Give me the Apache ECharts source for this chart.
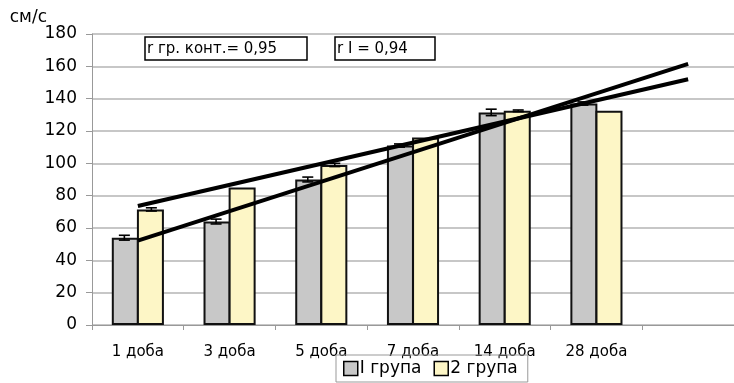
<!DOCTYPE html>
<html><head><meta charset="utf-8">
<script src="https://cdn.jsdelivr.net/npm/echarts@6/dist/echarts.min.js"></script>
<style>html,body{margin:0;padding:0;background:#fff}#c{width:734px;height:383px}</style>
</head><body><div id="c"></div>
<script>
const categories = ['1 доба','3 доба','5 доба','7 доба','14 доба','28 доба',''];
const group1 = [54, 64, 90, 111, 131.5, 137];
const group2 = [71.5, 85, 99, 116, 132.5, 132.5];
const group1Err = [1.5, 1.5, 1.5, 1, 2, 1];
const group2Err = [1, 0, 1, 0, 0.5, 0];
const trendSteep = [52.2, null, null, null, null, null, 161.5];
const trendGentle = [73.6, null, null, null, null, null, 152];
const yTicks = {min: 0, max: 180, interval: 20};
const seriesNames = ['I група', '2 група'];
const labelCtrl = 'r гр. конт.= 0,95';
const labelI = 'r I = 0,94';

const chart = echarts.init(document.getElementById('c'));
const BW = 27;
function errSeries(vals, errs, off) {
  return {
    type: 'custom', silent: true, z: 5,
    data: vals.map((v, i) => [i, v, errs[i]]),
    renderItem: function (params, api) {
      const i = api.value(0), v = api.value(1), e = api.value(2);
      if (!e) return null;
      const hi = api.coord([i, v + e]), lo = api.coord([i, v - e]);
      const x = hi[0] + off, w = 5.5;
      const st = {stroke: '#000', lineWidth: 1.6};
      return {type: 'group', children: [
        {type: 'line', shape: {x1: x, y1: hi[1], x2: x, y2: lo[1]}, style: st},
        {type: 'line', shape: {x1: x - w, y1: hi[1], x2: x + w, y2: hi[1]}, style: st},
        {type: 'line', shape: {x1: x - w, y1: lo[1], x2: x + w, y2: lo[1]}, style: st}
      ]};
    }
  };
}
const font = 'DejaVu Sans, Arial, sans-serif';
chart.setOption({
  animation: false,
  grid: {left: 92, top: 34, width: 651, bottom: 58, containLabel: false},
  xAxis: {
    type: 'category', data: categories, boundaryGap: true,
    axisLine: {lineStyle: {color: '#999', width: 1}},
    axisTick: {show: true, length: 5, lineStyle: {color: '#999'}},
    axisLabel: {color: '#000', fontSize: 15, fontFamily: font, margin: 20}
  },
  yAxis: {
    type: 'value', min: yTicks.min, max: yTicks.max, interval: yTicks.interval,
    name: 'см/с', nameLocation: 'end', nameGap: 3,
    nameTextStyle: {color: '#000', fontSize: 17, fontFamily: font, align: 'right', padding: [0, 45, 0, 0]},
    axisLine: {show: true, lineStyle: {color: '#999'}},
    axisTick: {show: true, length: 6, lineStyle: {color: '#999'}},
    splitLine: {lineStyle: {color: '#b4b4b4', width: 1.5}},
    axisLabel: {color: '#000', fontSize: 17, fontFamily: font, margin: 15}
  },
  legend: {
    left: 336, top: 355, itemWidth: 14, itemHeight: 14, itemGap: 12,
    padding: [5, 10, 5, 7], borderColor: '#999', borderWidth: 1,
    textStyle: {fontSize: 17, fontFamily: font, color: '#000', padding: [0, 0, 0, -3]},
    data: [
      {name: seriesNames[0], icon: 'rect', itemStyle: {color: '#c8c8c8', borderColor: '#000', borderWidth: 1.5}},
      {name: seriesNames[1], icon: 'rect', itemStyle: {color: '#fdf6c6', borderColor: '#000', borderWidth: 1.5}}
    ]
  },
  series: [
    {name: seriesNames[0], type: 'bar', data: group1, barWidth: BW, barGap: '-7%',
      itemStyle: {color: '#c8c8c8', borderColor: '#111', borderWidth: 2}},
    {name: seriesNames[1], type: 'bar', data: group2, barWidth: BW,
      itemStyle: {color: '#fdf6c6', borderColor: '#111', borderWidth: 2}},
    errSeries(group1, group1Err, -BW / 2),
    errSeries(group2, group2Err, BW / 2),
    {type: 'line', data: trendSteep, connectNulls: true, symbol: 'none', z: 6,
      lineStyle: {color: '#000', width: 4}},
    {type: 'line', data: trendGentle, connectNulls: true, symbol: 'none', z: 6,
      lineStyle: {color: '#000', width: 4}}
  ],
  graphic: [
    {type: 'rect', shape: {x: 145, y: 37, width: 162, height: 23}, style: {fill: '#fff', stroke: '#000', lineWidth: 1.5}, z: 10},
    {type: 'text', x: 147, y: 49, style: {text: labelCtrl, font: '15px ' + font, fill: '#000', textVerticalAlign: 'middle'}, z: 11},
    {type: 'rect', shape: {x: 335, y: 37, width: 100, height: 23}, style: {fill: '#fff', stroke: '#000', lineWidth: 1.5}, z: 10},
    {type: 'text', x: 337, y: 49, style: {text: labelI, font: '15px ' + font, fill: '#000', textVerticalAlign: 'middle'}, z: 11}
  ]
});
</script></body></html>
